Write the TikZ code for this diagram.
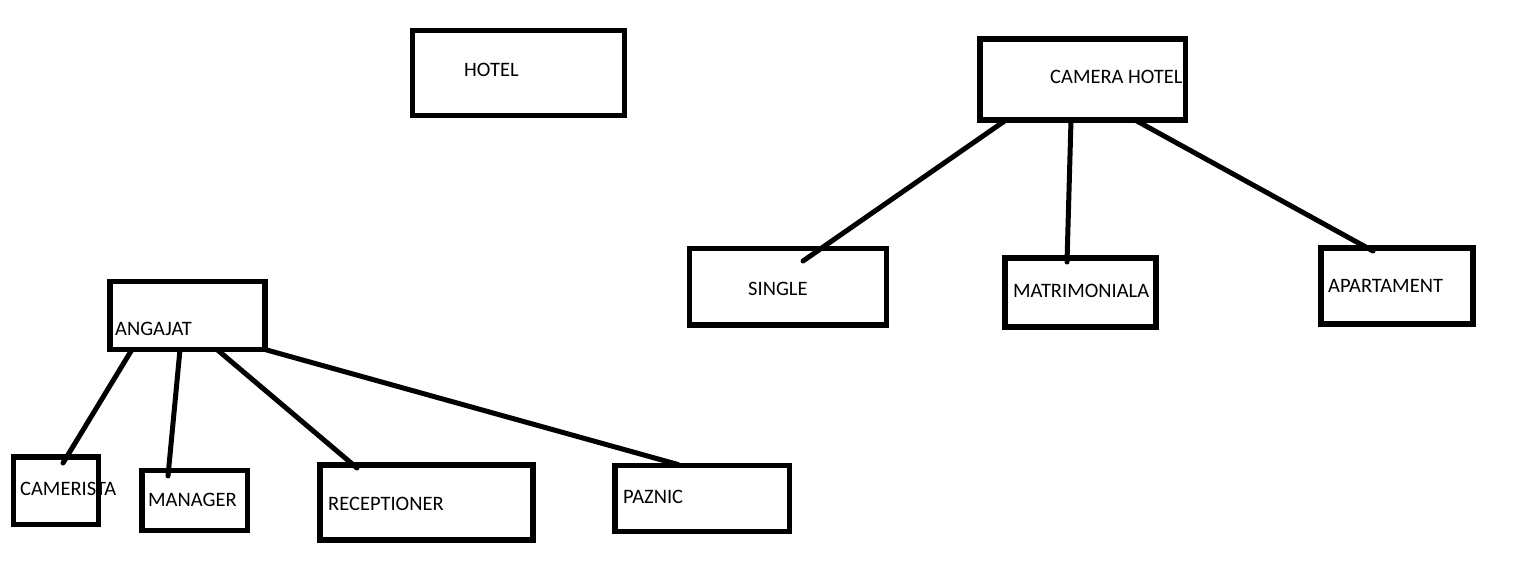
\documentclass[tikz,border=0pt]{standalone}
\usepackage{fontspec}
\setmainfont{Carlito}
\usetikzlibrary{positioning}

\begin{document}
\begin{tikzpicture}[
            x=1pt,
            y=-1pt,
            line join=miter,
            font=\fontsize{20.5}{24}\selectfont
        ]
        \tikzstyle{box}=[draw=black, line width=5.5pt, fill=none, inner sep=0pt, outer sep=0pt]
        \tikzstyle{txt}=[anchor=base west, inner sep=0pt, text=black]
        \tikzstyle{link}=[draw=black, line width=5pt, line cap=round]

        \useasboundingbox (0,0) rectangle (1522,571);

        \node[box, minimum width=212pt, minimum height=85pt] (B1) at (518.5,73) {};
        \node[box, minimum width=205.5pt, minimum height=81pt] (B2) at (1082.75,79.5) {};
        \node[box, minimum width=197pt, minimum height=76.5pt] (B3) at (788,286.75) {};
        \node[box, minimum width=151pt, minimum height=69pt] (B4) at (1080.5,292.5) {};
        \node[box, minimum width=152pt, minimum height=76pt] (B5) at (1397,286) {};
        \node[box, minimum width=155pt, minimum height=68pt] (B6) at (187.5,315.5) {};
        \node[box, minimum width=85pt, minimum height=67.5pt] (B7) at (56,490.75) {};
        \node[box, minimum width=105.5pt, minimum height=60pt] (B8) at (194.75,500.5) {};
        \node[box, minimum width=213pt, minimum height=75pt] (B9) at (426.5,502.5) {};
        \node[box, minimum width=174.5pt, minimum height=66pt] (B10) at (702.25,498.5) {};

        \node[txt] (T1) at (464,76) {HOTEL};
        \node[txt] (T2) at (1050,83) {CAMERA HOTEL};
        \node[txt] (T3) at (748,295) {SINGLE};
        \node[txt] (T4) at (1013,297) {MATRIMONIALA};
        \node[txt] (T5) at (1328,292) {APARTAMENT};
        \node[txt] (T6) at (115,335) {ANGAJAT};
        \node[txt] (T7) at (20,495) {CAMERISTA};
        \node[txt] (T8) at (148,506) {MANAGER};
        \node[txt] (T9) at (328,510) {RECEPTIONER};
        \node[txt] (T10) at (623,503) {PAZNIC};

        \draw[link] ([xshift=26pt]B2.south west) -- ([xshift=113.5pt,yshift=-12.5pt]B3.north west);
        \draw[link] ([xshift=91pt]B2.south west) -- ([xshift=62pt,yshift=-4pt]B4.north west);
        \draw[link] ([xshift=155pt]B2.south west) -- ([xshift=52pt,yshift=-3pt]B5.north west);

        \draw[link] ([xshift=22pt]B6.south west) -- ([xshift=49.5pt,yshift=-6pt]B7.north west);
        \draw[link] ([xshift=70pt]B6.south west) -- ([xshift=26pt,yshift=-5.5pt]B8.north west);
        \draw[link] ([xshift=107pt]B6.south west) -- ([xshift=37pt,yshift=-3pt]B9.north west);
        \draw[link] (B6.south east) -- ([xshift=63pt,yshift=1pt]B10.north west);
    \end{tikzpicture}
\end{document}
